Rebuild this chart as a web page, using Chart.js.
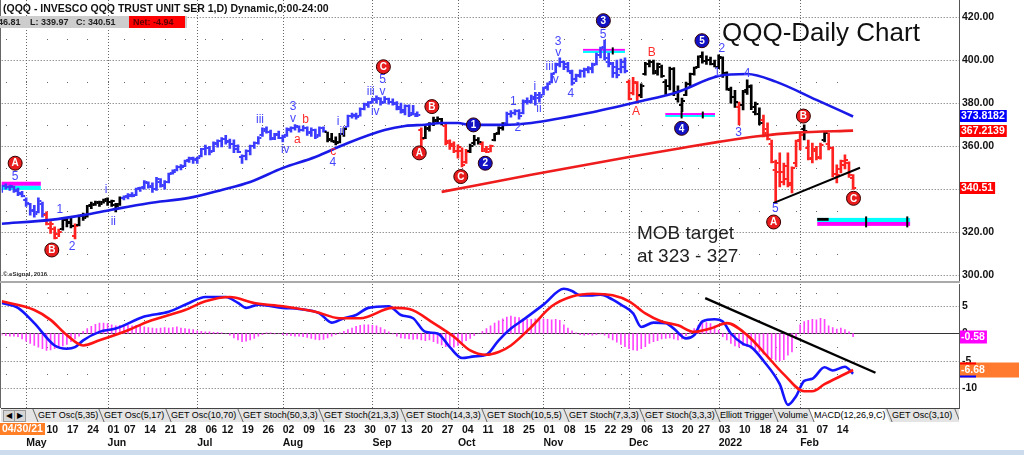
<!DOCTYPE html>
<html lang="en">
<head>
<meta charset="UTF-8">
<title>QQQ-Daily Chart</title>
<script src="https://cdn.jsdelivr.net/npm/chart.js"></script>
<style>
  html, body { margin: 0; padding: 0; }
  body { width: 1024px; height: 455px; overflow: hidden; position: relative; background: #fff;
         font-family: "Liberation Sans", Arial, sans-serif; }
  canvas { position: absolute; left: 0; }
  #price { top: 0; }
  #macd { top: 283px; }
  .abs { position: absolute; white-space: nowrap; }
  #head { left: 3px; top: 2.6px; font-size: 10.5px; font-weight: bold; line-height: 1; color: #111; }
  #info { left: 0; top: 16px; width: 187px; height: 12px; background: #cdcdcd; font-size: 9px;
          font-weight: bold; line-height: 12px; color: #222; }
  #info span { position: absolute; top: 0; }
  #net { left: 129px; width: 56px; height: 12px; background: #ff0000; color: #5a0000; padding-left: 4px; box-sizing: border-box; }
  #title { left: 722px; top: 18.6px; font-size: 26px; line-height: 1; color: #111; }
  #mob { left: 637px; top: 220.5px; font-size: 19px; line-height: 23px; color: #222; }
  #copy { left: 3px; top: 271px; font-size: 6px; font-weight: bold; color: #333; }
  #sep { left: 0; top: 281px; width: 960px; height: 2px; background: #a9a9a9; }
  #lborder { left: 0; top: 0; width: 1px; height: 408px; background: #666; }
  #tabs { left: 1px; top: 409px; width: 958px; height: 13px; background: #e4e4e4; font-size: 9px;
          line-height: 13px; color: #000; overflow: hidden; }
  #tabs .t { position: absolute; top: 0; }
  #tabs .s { position: absolute; top: 0; width: 1px; height: 13px; background: #666; transform: skewX(22deg); }
  #tabs .on { position: absolute; top: 0; height: 13px; background: #fff; transform: skewX(22deg); }
  #tabs .btn { position: absolute; top: 1px; width: 10px; height: 10px; background: #d6d6d6; border: 1px solid #999; }
  #bottom { left: 0; top: 450px; width: 1024px; height: 5px; background: #cddcec; }
</style>
</head>
<body>
<canvas id="price" width="1019" height="281"></canvas>
<canvas id="macd" width="1019" height="167"></canvas>
<div class="abs" id="lborder"></div>
<div class="abs" id="sep"></div>
<div class="abs" id="head">(QQQ - INVESCO QQQ TRUST UNIT SER 1,D) Dynamic,0:00-24:00</div>
<div class="abs" id="info"><span style="left:-2px">46.81</span><span style="left:30px">L: 339.97</span><span style="left:76px">C: 340.51</span><span id="net">Net: -4.94</span></div>
<div class="abs" id="title">QQQ-Daily Chart</div>
<div class="abs" id="mob">MOB target<br>at 323 - 327</div>
<div class="abs" id="copy">© eSignal, 2016</div>
<div class="abs" id="tabs"></div>
<div class="abs" id="bottom"></div>

<script>
// ---- calendar (trading days shown on the chart) ----
const holidays = ['2021-05-31', '2021-07-05', '2021-09-06', '2021-11-25', '2021-12-24', '2022-01-17'];
function tradingDays(first, last) {
  const out = [];
  const end = new Date(last + 'T12:00:00Z');
  for (let d = new Date(first + 'T12:00:00Z'); d <= end; d.setUTCDate(d.getUTCDate() + 1)) {
    const wd = d.getUTCDay();
    const s = d.toISOString().slice(0, 10);
    if (wd > 0 && wd < 6 && !holidays.includes(s)) out.push(s);
  }
  return out;
}
const dates = tradingDays('2021-04-23', '2022-02-18');
const lastSlot = 235;   // empty space right of the last bar

// ---- daily OHLC ----
const opens = [339.5,341.5,341,341,339.5,338,335,333,330.5,329.5, 333,328,322,321.5,319,321.5,325.5,325,318.5,323.5,
  328,327.5,332.5,333,333.5,334,335.5,334,332.5,333, 336,337,337.5,337.5,340.5,341,343,341.5,340,343.5,
  342,343.5,347.5,349,350.5,351,353.5,354,354,355.5, 358.5,359,358,361,362.5,363.5,362.5,361,360,355,
  355.5,358,360,361.5,365,367,366.5,364,365,364, 365,367.5,368.5,369,367.5,368.5,366.5,367.5,365,368.5,
  366.5,363.5,362,362,365.5,369,374,374,374,377.5, 379,380.5,381.5,382,380.5,382,380.5,380,378,377,
  378.5,375.5,374,367.5,364,368,370.5,372,372.5,369.5, 362.5,361,358,358,352.5,358,361.5,363,361,358.5,
  358.5,363,366,368.5,371,375,375.5,376.5,375.5,381, 380.5,382,382.5,384,387.5,390,394,398,399,397,
  394,391,393,395,396,396,398,402.5,406,399, 398,394,396,397,390,384.5,389.5,384,393.5,398,
  399,395,397,390,388,396,382,379,384,389, 393.5,397,402,399.5,400,398,397,401,394,386,
  383,378,379,386,388,376,375,372,368,361, 349,348,348,351,343,352,363,368,359,354.5,
  358,354.5,363,361,359,347,349.5,351.5,352,346.5];
const highs = [342,342.5,342,341.5,340.5,339,336,333.5,332.5,336, 334,329.5,325,322.5,321.5,327,326.5,326.5,324,328,
  329,332.5,334,334.5,334.5,335.5,336,335,333.5,336.5, 337,338,338.5,340.5,341,344,343.5,343,345.5,345,
  344,347.5,349,351,351.5,353.5,355,355,355,359, 360.5,360,362,363,364,365,363.3,363,360.6,356,
  358.3,360.5,362,364.5,368.5,369,367.5,366,367,365.2, 368.5,369,370,369.5,369.5,369,368.5,368,369,369,
  366.6,366,364.3,366,368.5,374.5,375.4,375.4,377.8,380, 380.7,382.4,383.4,382.5,383,382.4,382,380.7,380,379.2,
  379.2,379,376,368.5,369.5,371,373.5,373.6,373,370.8, 363,362,360.6,359.2,358.5,361,365,364,362,360,
  360.5,366,369,371,375.9,376.5,377,377,381.5,382.5, 383.8,385,385,387.5,389.4,394,398.6,401,399.5,399,
  395.4,393.5,395.5,396.3,397,398.6,403.2,406,409.3,403.2, 399,400,400.5,401,390.8,392,390,389,399,400,
  400,398.6,397.7,391,396.8,396.5,388,382.4,389.8,394, 396.8,402,403.8,402,401.4,400,402.4,401.5,394.5,387.5,
  386,380.5,386,390.8,388.5,380.5,377.8,374.5,370.8,362.9, 353.6,356.9,352.2,356.9,350.4,362.9,366,369.9,362.9,361.5,
  360,361.5,366.6,366,359.7,351.3,353.6,356,352.7,346.81];
const lows = [338.5,340,339.5,338.5,337,336.5,332,328,327,329, 327,323.5,319.5,317,318,321,322.5,322,317,323,
  325.5,327,331,332.5,332,333.5,332.5,332,329.5,332.5, 335,335.5,336.5,337,339,340,340.5,338.5,339.5,341,
  340,343,347,348.5,349,350.5,352.5,352,352,355, 356,356,357.5,359.5,359.7,361,359,357,357,352,
  353.6,356,359,361,364.5,366,362.9,363,363.5,362, 364.5,366.5,367.5,366.5,367,365,364.5,363.5,364.5,366.5,
  362,362,360.6,361.5,364.5,369,373,372.5,374,376.8, 378,380,380,379,380,379.5,379,376.8,375.4,374.5,
  373.7,374.5,373.7,358.3,363.5,367,369.5,370.5,369.9,360.6, 358.5,357,354.5,350.4,352,357,360.5,361,357.5,357,
  357.3,362.5,365.5,367.5,370.5,373.5,374.5,372.5,375,379.5, 380,379,380.5,383.8,386,389.4,394,396.8,395.5,394.5,
  388.4,390,392,392.1,394,394,397.7,401,400,396.8, 392,391.7,394,394,381.5,383.8,380,382.5,393,396.8,
  393.5,393,392,384,386.1,383.5,380.5,376,383.5,387.5, 393,396.5,398.6,398,397.7,396.8,396,392,386,380,
  378,369.9,376.8,384,377,374.5,369.9,364.3,362.9,352.2, 333.7,341.1,342,341.1,338.3,350.4,358.3,362.9,353.6,352.2,
  353.6,354,362,358.3,345.7,343,347.6,349.5,345.45,339.97];
const closes = [341.5,341,341.5,339,338.5,337,333.5,330,328.5,334.5, 328.5,324,324,317.5,320,326.5,324.5,323,323,327.5,
  326.5,332,332.5,334,333,334.5,334,334.5,332,336, 336.5,337,337,340,340.5,343.5,341,340,345,341.5,
  343.5,347,348,350.5,350.5,353,354.5,353.5,354.5,358.5, 359,357.5,361.5,362.5,363.5,362,361,358.5,357.5,355.5,
  358,360,361.5,364,368,366.5,363.5,365.5,364,364.5, 368,368.5,369.5,367.5,368.5,366,367.5,364.5,368.5,367,
  363,362.5,361.5,365.5,368,374,374.5,373.5,377.5,379.5, 380,382,382.5,380,382,380.5,379.5,377.5,376,378.5,
  374.5,375,374.5,363.5,368.5,370.5,371.5,372.5,371,361.5, 360,358,359.5,351.5,357.5,360,363,362,358,357.5,
  360,365.5,368.5,370.5,375,375.5,376.5,374,380.5,381, 383,384,383,387,389,393.5,397.5,399,398,395,
  389.5,392.5,395,395.5,396.5,397.5,402.5,405.5,401,398.5, 397,393,399,395,382,390,383.5,388,398,399,
  394,398,392.5,388,396,385,385.5,381,389,393.5, 396.5,401.5,399.5,400,398,397,401.5,394,386.5,383,
  380.5,379,385,387.5,378,379.5,371,366,363.5,352.5, 352,343.5,345,342,350,362.5,365,367,354,358.5,
  355,360.5,366,359,347,346.5,353,353.5,345.45,340.51];
// Elliott-trigger bar colouring: [first bar, tone]
const toneRuns = [[0,'b'],[11,'r'],[15,'k'],[18,'r'],[19,'k'],[30,'b'],[80,'k'],[85,'b'],[103,'r'],[104,'k'],
  [109,'r'],[115,'k'],[118,'r'],[121,'k'],[124,'b'],[154,'r'],[157,'k'],[181,'r'],[182,'k'],[187,'r'],
  [197,'k'],[198,'r'],[202,'k'],[203,'r']];

// ---- moving averages (read at sample bars) ----
const maBlueAt = [0,12,20,27,36,46,54,61,69,77,85,94,99,104,108,112,115,123,130,144,156,166,176,183,190,200,209];
const maBlue = [324,325.8,328,330.5,333.5,336,339.7,343.4,349.9,355,361.5,367.5,369.4,370,370.8,370.8,369.9,369.9,
  370.8,375.4,380.5,385.2,392.6,393.5,390,381.5,373.8182];
const maRedAt = [108,130,154,167,176,185,195,209];
const maRed = [338.8,346.7,355,359.2,362,364.5,366.3,367.2139];
const trendAt = [189.4, 210.7];
const trendPx = [333.6, 350.0];

// ---- MACD pane ----
const macdAt = [0,4,8,13,16,18,20,24,28,35,41,46,50,55,58,60,63,69,73,78,81,84,87,90,95,98,101,104,107,110,113,116,
  119,122,125,128,133,138,140,142,145,147,150,152,155,157,160,163,165,168,170,172,175,177,179,182,184,187,191,193,
  195,197,199,202,204,207,209];
const macd = [5.6,4.7,1.9,-2.2,-2.8,-2.5,-1.25,0.3,0.9,3.1,4.0,5.6,6.7,6.7,5.6,4.7,5.3,4.7,4.5,3.7,2.0,2.8,3.4,4.7,
  5.0,3.4,2.8,0.3,0,-2.5,-4.5,-4.2,-3.9,-1.25,0.9,2.5,5.3,8.2,7.8,7.0,7.0,7.1,6.2,5.3,3.7,1.2,2.0,1.9,0.9,-0.9,
  -0.3,2.2,2.6,2.2,0,-1.9,-2.5,-5.0,-9.3,-13.1,-11.5,-8.7,-8.3,-6.2,-6.8,-6.1,-7.4];
const signalAt = [0,8,12,16,20,24,31,36,45,50,56,62,69,77,83,88,96,100,106,111,115,119,122,125,130,135,140,145,150,
  154,158,162,166,170,174,178,183,187,192,197,199,202,206,209];
const signal = [5.9,4.3,2.5,-0.3,-2.2,-1.25,0.6,2.2,4.3,5.9,6.7,5.6,5.0,4.0,2.8,2.8,4.7,4.5,1.9,-0.6,-3.1,-3.9,-3.4,
  -2.2,1.2,5.0,6.8,7.3,7.0,5.9,3.7,2.2,1.5,0.3,0.9,1.9,-0.3,-3.4,-7.5,-10.6,-10.6,-9.3,-7.8,-6.7];
const hist = [-0.3,-0.4,-0.5,-0.5,-0.6,-1.0,-1.4,-1.8,-2.2,-2.5, -2.8,-3.1,-3.0,-2.8,-2.6,-2.3,-2.0,-1.5,-1.0,-0.5,
  0.4,0.9,1.3,1.7,1.9,1.9,1.8,1.6,1.4,1.5, 1.6,1.5,1.4,1.5,1.3,1.2,1.1,1.0,0.9,1.0,
  1.1,1.0,1.1,1.2,1.0,0.9,0.8,0.7,0.5,0.4, 0.3,0.3,0.2,0.2,0.1,0.0,-0.3,-0.8,-1.2,-1.5,
  -1.4,-1.2,-0.9,-0.5,-0.2,0.1,0.1,-0.1,0.0,-0.2, -0.3,-0.4,-0.5,-0.5,-0.6,-0.7,-0.9,-1.1,-1.2,-1.1,
  -0.8,-0.5,-0.2,0.1,0.4,0.7,1.0,1.3,1.5,1.6, 1.6,1.5,1.4,1.1,0.7,0.3,-0.1,-0.5,-0.8,-0.9,
  -1.0,-1.1,-1.0,-1.2,-1.3,-1.2,-1.5,-1.8,-2.1,-2.4, -2.6,-2.5,-2.2,-1.8,-1.3,-0.9,-0.4,0.0,0.4,0.9,
  1.4,1.9,2.3,2.7,3.0,3.2,3.0,2.9,2.7,2.6, 2.6,2.7,2.8,2.7,2.6,2.5,2.6,2.4,1.6,1.0,
  0.5,0.1,-0.2,-0.3,-0.2,-0.3,-0.2,-0.1,-0.3,-0.8, -1.2,-1.6,-2.0,-2.4,-2.8,-3.0,-3.1,-2.8,-2.4,-1.8,
  -1.5,-1.3,-1.0,-0.9,-0.8,-1.0,-1.2,-1.0,-0.4,0.2, 0.9,1.5,1.9,2.0,1.8,1.4,0.6,-0.6,-1.2,-1.8,
  -2.3,-2.5,-2.2,-2.4,-2.7,-3.0,-3.4,-3.8,-4.2,-4.6, -4.9,-5.0,-4.8,-4.0,-3.4,-1.0,1.6,2.2,2.4,2.6,
  2.5,2.8,2.6,1.4,1.1,0.8,1.0,0.7,0.3,-0.58];
const macdTrendAt = [172.7, 214.5];
const macdTrend = [6.5, -7.2];

// ---- annotations (bar index, price) ----
const zoneFrom = [0, 142.7, 162.9, 200.2];
const zoneTo = [9.6, 153, 175.1, 223];
const zoneHigh = [343.5, 405.2, 375.4, 326.7];
const zoneMid = [341.6, 404.3, 374.5, 324.8];
const zoneLow = [339.7, 403.3, 373.6, 323.0];
const zoneMarks = [[1, 150], [2, 166.9], [2, 172.1], [3, 212.2], [3, 222.3]];
const waveBlue = [['5',3.3,345.9],['1',14.3,330.4],['2',17.3,313.2],['i',25.6,339.7],['ii',27.4,325],['iii',63.4,372.2],
  ['iv',69.6,358.3],['3',71.5,378.2],['v',71.5,373],['4',81.3,352.2],['i',82.6,371.3],['ii',83.6,366.6],
  ['iii',90.6,385.3],['iv',91.7,376],['5',93.5,390.8],['v',93.5,385.3],['1',125.6,380.7],['2',126.7,368.8],
  ['i',130.9,387.7],['ii',131.9,377.6],['iii',134.5,397],['v',136,390.8],['3',136.6,408.5],['v',136.6,403.4],
  ['4',139.7,384.6],['5',147.6,411.7],['1',175.6,394.2],['2',176.8,405.5],['3',180.9,366.3],['4',183,393.9],
  ['5',189.9,331.2]];
const waveRed = [['b',74.6,372.2],['a',72.6,363.2],['c',81.4,357.5],['A',155.7,376],['B',159.6,403.2]];
const waveRedCircle = [['A',3.3,352.1],['B',12.3,311.8],['C',93.7,396.9],['A',102.5,356.9],['B',105.6,378.4],
  ['C',112.7,345.9],['A',189.5,324.8],['B',196.8,374],['C',209.1,335.8]];
const waveBlueCircle = [['1',115.8,369.9],['2',118.7,352.1],['3',147.7,418.3],['4',166.9,368.3],['5',171.9,409]];

const priceTicks = [300, 320, 340, 360, 380, 400, 420];
const priceMinor = [310, 330, 350, 370, 390, 410];
const macdTicks = [5, 0, -5, -10];
const macdMinor = [7.5, 2.5, -2.5, -7.5];

// ---- derived axis positions ----
const weekStarts = [], monthStarts = [];
dates.forEach((d, i) => {
  if (i === 0) return;
  const prev = dates[i - 1];
  if (new Date(d).getUTCDay() <= new Date(prev).getUTCDay()) weekStarts.push(i);
  if (d.slice(5, 7) !== prev.slice(5, 7)) monthStarts.push(i);
});
const monNames = ['Jan','Feb','Mar','Apr','May','Jun','Jul','Aug','Sep','Oct','Nov','Dec'];
const axisTicks = [...new Set([...weekStarts, ...monthStarts])].sort((a, b) => a - b);
const tickText = {};
axisTicks.forEach(i => {
  const d = dates[i];
  const m = +d.slice(5, 7);
  tickText[i] = [weekStarts.includes(i) ? d.slice(8, 10) : '',
                 monthStarts.includes(i) ? (m === 1 ? d.slice(0, 4) : monNames[m - 1]) : ''];
});

const tones = dates.map((d, i) => { let t = 'b'; toneRuns.forEach(([s, c]) => { if (i >= s) t = c; }); return t; });
const toneColor = { b: '#3c3cff', k: '#000000', r: '#ff2020' };
function makeTick(color, left) {
  const c = document.createElement('canvas');
  c.width = 8; c.height = 2;
  const g = c.getContext('2d');
  g.fillStyle = color;
  g.fillRect(left ? 1 : 5, 0, 2, 2);
  return c;
}
const openTick = {}, closeTick = {};
Object.keys(toneColor).forEach(k => { openTick[k] = makeTick(toneColor[k], true); closeTick[k] = makeTick(toneColor[k], false); });

Chart.defaults.font.family = '"Liberation Sans", Arial, sans-serif';
Chart.defaults.animation = false;

// dotted eSignal style grid
const dotGrid = {
  id: 'dotGrid',
  beforeDatasetsDraw(chart, args, opts) {
    const { ctx, chartArea: a, scales: { x, y } } = chart;
    ctx.save();
    ctx.strokeStyle = '#666';
    ctx.lineWidth = 1;
    ctx.setLineDash([1, 2]);
    ctx.beginPath();
    monthStarts.forEach(i => {
      const px = Math.round(x.getPixelForValue(i)) + 0.5;
      ctx.moveTo(px, a.top); ctx.lineTo(px, a.bottom);
    });
    opts.major.forEach(v => {
      const py = Math.round(y.getPixelForValue(v)) + 0.5;
      ctx.moveTo(a.left, py); ctx.lineTo(a.right, py);
    });
    ctx.stroke();
    ctx.setLineDash([]);
    ctx.fillStyle = '#666';
    opts.minor.forEach(v => {
      const py = Math.round(y.getPixelForValue(v));
      weekStarts.forEach(i => ctx.fillRect(Math.round(x.getPixelForValue(i)), py, 1, 1));
    });
    if (opts.zero !== undefined) {
      const py = Math.round(y.getPixelForValue(opts.zero)) + 0.5;
      ctx.strokeStyle = '#333';
      ctx.beginPath(); ctx.moveTo(a.left, py); ctx.lineTo(a.right, py); ctx.stroke();
    }
    ctx.restore();
  }
};

// cyan / magenta target bands
const zones = {
  id: 'zones',
  beforeDatasetsDraw(chart) {
    const { ctx, scales: { x, y } } = chart;
    ctx.save();
    zoneFrom.forEach((f, k) => {
      const x0 = x.getPixelForValue(f), x1 = x.getPixelForValue(zoneTo[k]);
      const yh = y.getPixelForValue(zoneHigh[k]), ym = y.getPixelForValue(zoneMid[k]), yl = y.getPixelForValue(zoneLow[k]);
      const upperCyan = k === 3;
      ctx.fillStyle = upperCyan ? '#00ffff' : '#ff00ff';
      ctx.fillRect(x0, yh, x1 - x0, ym - yh);
      ctx.fillStyle = upperCyan ? '#ff00ff' : '#00ffff';
      ctx.fillRect(x0, ym, x1 - x0, yl - ym);
      if (k === 3) {
        ctx.fillStyle = '#000';
        ctx.fillRect(x0, yh, x.getPixelForValue(203) - x0, (ym - yh) * 0.7);
      }
    });
    ctx.fillStyle = '#000';
    zoneMarks.forEach(([k, i]) => {
      const px = x.getPixelForValue(i);
      const yh = y.getPixelForValue(zoneHigh[k]), yl = y.getPixelForValue(zoneLow[k]);
      ctx.fillRect(px - 1, yh - 1.5, 2, yl - yh + 3);
    });
    ctx.restore();
  }
};

// Elliott wave labels
const waves = {
  id: 'waves',
  afterDatasetsDraw(chart) {
    const { ctx, scales: { x, y } } = chart;
    ctx.save();
    ctx.textAlign = 'center';
    ctx.textBaseline = 'middle';
    ctx.font = '12px "Liberation Sans", Arial, sans-serif';
    ctx.fillStyle = '#4646ff';
    waveBlue.forEach(([t, i, p]) => ctx.fillText(t, x.getPixelForValue(i), y.getPixelForValue(p)));
    ctx.fillStyle = '#ff2b2b';
    waveRed.forEach(([t, i, p]) => ctx.fillText(t, x.getPixelForValue(i), y.getPixelForValue(p)));
    const circles = (list, fill) => list.forEach(([t, i, p]) => {
      const cx = x.getPixelForValue(i), cy = y.getPixelForValue(p);
      ctx.beginPath(); ctx.arc(cx, cy, 7, 0, Math.PI * 2);
      ctx.fillStyle = fill; ctx.fill();
      ctx.lineWidth = 1; ctx.strokeStyle = '#300'; ctx.stroke();
      ctx.fillStyle = '#fff';
      ctx.font = 'bold 10px "Liberation Sans", Arial, sans-serif';
      ctx.fillText(t, cx, cy + 0.5);
    });
    circles(waveRedCircle, '#e81c1c');
    circles(waveBlueCircle, '#1212c4');
    ctx.restore();
  }
};

// value flags on the right axis
const flags = {
  id: 'flags',
  afterDraw(chart, args, opts) {
    const { ctx, chartArea: a, scales: { y } } = chart;
    ctx.save();
    ctx.font = 'bold 10.5px "Liberation Sans", Arial, sans-serif';
    ctx.textBaseline = 'middle';
    opts.items.forEach(f => {
      const py = Math.round(y.getPixelForValue(f.value));
      const w = f.w || ctx.measureText(f.text).width + 3;
      const h = f.h || 12;
      ctx.fillStyle = f.bg;
      ctx.fillRect(a.right + 1, py - h / 2, w, h);
      if (f.top) { ctx.fillStyle = f.top; ctx.fillRect(a.right + 1, py - h / 2, 16, 2); }
      if (f.bottom) { ctx.fillStyle = f.bottom; ctx.fillRect(a.right + 1, py + h / 2 - 2, 16, 2); }
      ctx.fillStyle = '#fff';
      ctx.fillText(f.text, a.right + 2, py + 0.5);
    });
    if (opts.cursor) {
      ctx.fillStyle = '#ff7f27';
      ctx.fillRect(0, a.bottom + 15, 45, 12);
      ctx.fillStyle = '#fff';
      ctx.fillText(opts.cursor, 2, a.bottom + 21.5);
    }
    ctx.restore();
  }
};

const axisFont = { size: 10.5, weight: 'bold' };
// right axis: fixed width, no extra padding so the plot fills the pane
const fitRight = s => { s.width = 60; s.paddingTop = 0; s.paddingBottom = 0; };

new Chart(document.getElementById('price'), {
  type: 'bar',
  data: {
    datasets: [
      { type: 'line', label: 'Trend', data: trendAt.map((x, k) => ({ x, y: trendPx[k] })),
        borderColor: '#000', borderWidth: 2, pointRadius: 0, order: 0 },
      { type: 'line', label: 'MA blue', data: maBlueAt.map((x, k) => ({ x, y: maBlue[k] })),
        borderColor: '#1a1ae8', borderWidth: 2.6, pointRadius: 0, cubicInterpolationMode: 'monotone', order: 1 },
      { type: 'line', label: 'MA red', data: maRedAt.map((x, k) => ({ x, y: maRed[k] })),
        borderColor: '#ee1c1c', borderWidth: 2.6, pointRadius: 0, cubicInterpolationMode: 'monotone', order: 1 },
      { type: 'line', label: 'Open', data: opens.map((y, i) => ({ x: i, y })), showLine: false, pointRadius: 3,
        pointStyle: c => openTick[tones[c.dataIndex] || 'b'], order: 3 },
      { type: 'line', label: 'Close', data: closes.map((y, i) => ({ x: i, y })), showLine: false, pointRadius: 3,
        pointStyle: c => closeTick[tones[c.dataIndex] || 'b'], order: 3 },
      { type: 'bar', label: 'Range', data: lows.map((l, i) => ({ x: i, y: [l, highs[i]] })),
        backgroundColor: tones.map(t => toneColor[t]), barThickness: 2, order: 4 }
    ]
  },
  options: {
    responsive: false,
    events: [],
    layout: { autoPadding: false, padding: { left: 1.7, top: 0, right: 0, bottom: 0 } },
    plugins: {
      legend: { display: false }, tooltip: { enabled: false },
      dotGrid: { major: priceTicks, minor: priceMinor },
      flags: { items: [
        { value: maBlue[maBlue.length - 1], text: '373.8182', bg: '#0000ff' },
        { value: maRed[maRed.length - 1], text: '367.2139', bg: '#ff0000' },
        { value: closes[closes.length - 1], text: '340.51', bg: '#ff0000' }
      ] }
    },
    scales: {
      x: { type: 'linear', display: false, min: 0, max: lastSlot, offset: false },
      y: { position: 'right', min: 297.4, max: 427.9,
        afterBuildTicks: s => { s.ticks = priceTicks.map(v => ({ value: v })); },
        afterFit: fitRight,
        grid: { display: false, drawTicks: false },
        border: { display: true, color: '#555' },
        ticks: { padding: 3, color: '#111', font: axisFont, callback: v => v.toFixed(2) } }
    }
  },
  plugins: [dotGrid, zones, waves, flags]
});

new Chart(document.getElementById('macd'), {
  type: 'bar',
  data: {
    datasets: [
      { type: 'line', label: 'Trend', data: macdTrendAt.map((x, k) => ({ x, y: macdTrend[k] })),
        borderColor: '#000', borderWidth: 2.4, pointRadius: 0, order: 0 },
      { type: 'line', label: 'MACD', data: macdAt.map((x, k) => ({ x, y: macd[k] })),
        borderColor: '#1414ff', borderWidth: 2.6, pointRadius: 0, cubicInterpolationMode: 'monotone', order: 2 },
      { type: 'line', label: 'Signal', data: signalAt.map((x, k) => ({ x, y: signal[k] })),
        borderColor: '#ff1414', borderWidth: 2.6, pointRadius: 0, cubicInterpolationMode: 'monotone', order: 1 },
      { type: 'bar', label: 'Histogram', data: hist.map((v, i) => ({ x: i, y: v })),
        backgroundColor: '#ff44ff', barThickness: 1, order: 4 }
    ]
  },
  options: {
    responsive: false,
    events: [],
    layout: { autoPadding: false, padding: { left: 1.7, top: 1, right: 0, bottom: 0 } },
    plugins: {
      legend: { display: false }, tooltip: { enabled: false },
      dotGrid: { major: [5, -5, -10], minor: macdMinor, zero: 0 },
      flags: { cursor: '04/30/21', items: [
        { value: hist[hist.length - 1], text: '-0.58', bg: '#ff00ff', h: 13 },
        { value: signal[signal.length - 1], text: '-6.68', bg: '#ff7a2e', w: 64, h: 15, top: '#ff0000', bottom: '#0000ff' }
      ] }
    },
    scales: {
      x: { type: 'linear', min: 0, max: lastSlot, offset: false, position: 'bottom',
        afterBuildTicks: s => { s.ticks = axisTicks.map(v => ({ value: v })); },
        afterFit: s => { s.height = 42; s.paddingLeft = 0; s.paddingRight = 0; },
        grid: { display: false, drawTicks: false },
        border: { display: true, color: '#444' },
        ticks: { autoSkip: false, maxRotation: 0, minRotation: 0, align: 'start', padding: 16, color: '#111',
          font: { size: 10.5, weight: 'bold', lineHeight: '13px' }, callback: v => tickText[v] || '' } },
      y: { position: 'right', min: -13.67, max: 9.08,
        afterBuildTicks: s => { s.ticks = macdTicks.map(v => ({ value: v })); },
        afterFit: fitRight,
        grid: { display: false, drawTicks: false },
        border: { display: true, color: '#555' },
        ticks: { padding: 3, color: '#111', font: axisFont, callback: v => String(v) } }
    }
  },
  plugins: [dotGrid, flags]
});

// indicator tab strip under the MACD pane
const tabLeft = [32, 98, 165, 237, 318, 400, 481, 563, 639, 714, 772, 808, 886, 954];
const tabNames = ['GET Osc(5,35)', 'GET Osc(5,17)', 'GET Osc(10,70)', 'GET Stoch(50,3,3)', 'GET Stoch(21,3,3)',
  'GET Stoch(14,3,3)', 'GET Stoch(10,5,5)', 'GET Stoch(7,3,3)', 'GET Stoch(3,3,3)', 'Elliott Trigger', 'Volume',
  'MACD(12,26,9,C)', 'GET Osc(3,10)'];
const bar = document.getElementById('tabs');
let html = '<div class="btn" style="left:2px"></div><div class="btn" style="left:13px"></div>' +
  '<div class="t" style="left:5px;font-size:8px">&#9664;</div><div class="t" style="left:16px;font-size:8px">&#9654;</div>';
tabNames.forEach((name, k) => {
  if (name.startsWith('MACD')) html += `<div class="on" style="left:${tabLeft[k] + 2}px;width:${tabLeft[k + 1] - tabLeft[k] - 2}px"></div>`;
});
tabLeft.forEach(x => { html += `<div class="s" style="left:${x + 2}px"></div>`; });
tabNames.forEach((name, k) => { html += `<div class="t" style="left:${tabLeft[k] + 5}px">${name}</div>`; });
bar.innerHTML = html;
</script>
</body>
</html>
